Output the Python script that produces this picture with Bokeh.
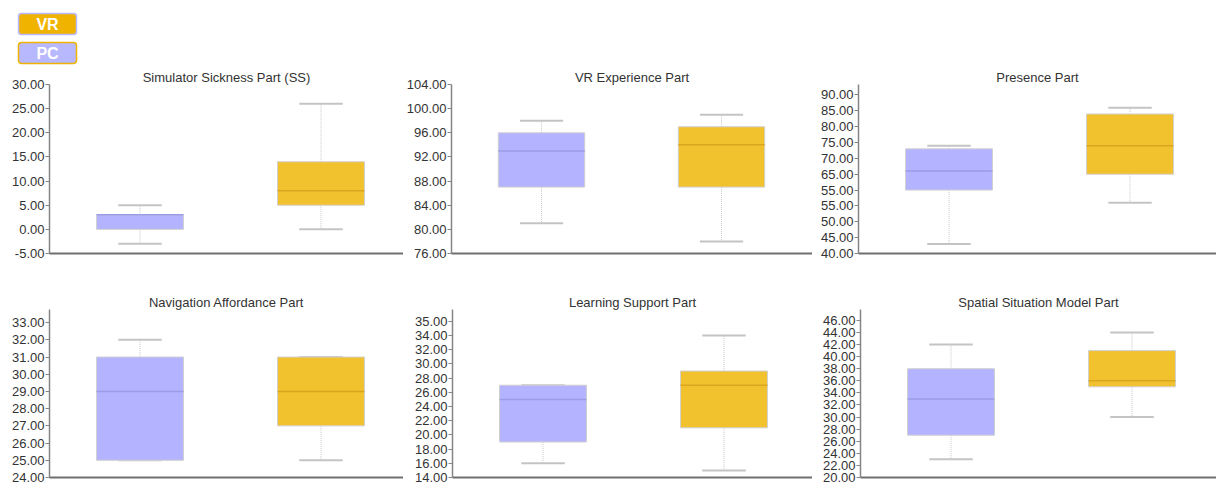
from bokeh.plotting import figure
from bokeh.layouts import column, row
from bokeh.models import Range1d, FixedTicker, ColumnDataSource
from bokeh.embed import file_html
from bokeh.resources import INLINE
from bokeh.core.properties import value

FONT = "Liberation Sans"

# ---------------- data ----------------
groups = ["PC", "VR"]
group_pos = [1, 3]
fill_colors = ["#b3b3ff", "#f2c12e"]
median_colors = ["#9b9be6", "#d9a61f"]

legend_names = ["VR", "PC"]
legend_fill = ["#f0b400", "#b8b8ff"]
legend_border = ["#b8b8ff", "#f0b400"]

titles = [
    "Simulator Sickness Part (SS)",
    "VR Experience Part",
    "Presence Part",
    "Navigation Affordance Part",
    "Learning Support Part",
    "Spatial Situation Model Part",
]

# [min, q1, median, q3, max]
ss_pc = [-3, 0, 3, 3, 5]
ss_vr = [0, 5, 8, 14, 26]
vrexp_pc = [81, 87, 93, 96, 98]
vrexp_vr = [78, 87, 94, 97, 99]
pres_pc = [43, 60, 66, 73, 74]
pres_vr = [56, 65, 74, 84, 86]
nav_pc = [25, 25, 29, 31, 32]
nav_vr = [25, 27, 29, 31, 31]
learn_pc = [16, 19, 25, 27, 27]
learn_vr = [15, 21, 27, 29, 34]
spat_pc = [23, 27, 33, 38, 42]
spat_vr = [30, 35, 36, 41, 44]

ss_ticks = [-5, 0, 5, 10, 15, 20, 25, 30]
ss_labels = ["-5.00", "0.00", "5.00", "10.00", "15.00", "20.00", "25.00", "30.00"]
vrexp_ticks = [76, 80, 84, 88, 92, 96, 100, 104]
vrexp_labels = ["76.00", "80.00", "84.00", "88.00", "92.00", "96.00", "100.00", "104.00"]
pres_ticks = [40, 45, 50, 55, 60, 65, 70, 75, 80, 85, 90]
pres_labels = ["40.00", "45.00", "50.00", "55.00", "55.00", "65.00", "70.00",
               "75.00", "80.00", "85.00", "90.00"]
nav_ticks = [24, 25, 26, 27, 28, 29, 30, 31, 32, 33]
nav_labels = ["24.00", "25.00", "26.00", "27.00", "28.00", "29.00", "30.00",
              "31.00", "32.00", "33.00"]
learn_ticks = [14, 16, 18, 20, 22, 24, 26, 28, 30, 32, 34, 36]
learn_labels = ["14.00", "16.00", "18.00", "20.00", "22.00", "24.00", "26.00",
                "28.00", "30.00", "32.00", "34.00", "35.00"]
spat_ticks = [20, 22, 24, 26, 28, 30, 32, 34, 36, 38, 40, 42, 44, 46]
spat_labels = ["20.00", "22.00", "24.00", "26.00", "28.00", "30.00", "32.00",
               "34.00", "36.00", "38.00", "40.00", "42.00", "44.00", "46.00"]

y_ranges = [(-5, 30), (76, 104), (40, 93.3), (24, 33.76), (14, 37.67), (20, 47.8)]

panels = [
    (titles[0], ss_pc, ss_vr, ss_ticks, ss_labels),
    (titles[1], vrexp_pc, vrexp_vr, vrexp_ticks, vrexp_labels),
    (titles[2], pres_pc, pres_vr, pres_ticks, pres_labels),
    (titles[3], nav_pc, nav_vr, nav_ticks, nav_labels),
    (titles[4], learn_pc, learn_vr, learn_ticks, learn_labels),
    (titles[5], spat_pc, spat_vr, spat_ticks, spat_labels),
]

# ---------------- layout ----------------
PX_PER_UNIT = 90.5
widths = [403, 409, 404, 403, 409, 404]
lefts = [49, 46, 46, 49, 49, 48]
heights = [215, 215, 215, 203, 203, 203]
tops = [18, 18, 18, 28, 28, 28]
bottoms = [28, 28, 28, 7, 7, 7]
title_offsets = [-5, -12, -10, -10, -9, -11]


def make_panel(i):
    title, pc, vr, ticks, labels = panels[i]
    frame_w = widths[i] - lefts[i]
    p = figure(width=widths[i], height=heights[i], output_backend="svg",
               toolbar_location=None,
               x_range=Range1d(0, frame_w / PX_PER_UNIT),
               y_range=Range1d(*y_ranges[i]),
               min_border_left=lefts[i], min_border_right=0,
               min_border_top=tops[i], min_border_bottom=bottoms[i])
    p.outline_line_color = None
    p.grid.visible = False
    p.background_fill_color = "white"
    p.border_fill_color = "white"

    p.title.text = title
    p.title.align = "center"
    p.title.standoff = 0
    p.title.offset = title_offsets[i]
    p.title.text_font = FONT
    p.title.text_font_size = "13px"
    p.title.text_font_style = "normal"
    p.title.text_color = "#333333"

    stats = [pc, vr]
    src = ColumnDataSource(dict(
        x=group_pos,
        lo=[s[0] for s in stats],
        q1=[s[1] for s in stats],
        med=[s[2] for s in stats],
        q3=[s[3] for s in stats],
        hi=[s[4] for s in stats],
        left=[x - 0.48 for x in group_pos],
        right=[x + 0.48 for x in group_pos],
        cl=[x - 0.24 for x in group_pos],
        cr=[x + 0.24 for x in group_pos],
        fill=fill_colors,
        mcol=median_colors,
    ))
    # whiskers (dotted)
    p.segment(x0="x", y0="q3", x1="x", y1="hi", source=src,
              line_color="#c8c8c8", line_width=1, line_dash="1 1")
    p.segment(x0="x", y0="q1", x1="x", y1="lo", source=src,
              line_color="#c8c8c8", line_width=1, line_dash="1 1")
    # caps
    p.segment(x0="cl", y0="hi", x1="cr", y1="hi", source=src,
              line_color="#c4c4c4", line_width=2)
    p.segment(x0="cl", y0="lo", x1="cr", y1="lo", source=src,
              line_color="#c4c4c4", line_width=2)
    # boxes
    p.quad(left="left", right="right", bottom="q1", top="q3", source=src,
           fill_color="fill", line_color="#d0d0d0", line_width=1)
    # medians
    p.segment(x0="left", y0="med", x1="right", y1="med", source=src,
              line_color="mcol", line_width=1.5)

    # y axis
    ya = p.yaxis[0]
    ya.ticker = FixedTicker(ticks=ticks)
    ya.major_label_overrides = {t: l for t, l in zip(ticks, labels)}
    ya.axis_line_color = "#858585"
    ya.axis_line_width = 1.5
    ya.major_tick_line_color = "#858585"
    ya.major_tick_line_width = 1
    ya.major_tick_out = 4
    ya.major_tick_in = 0
    ya.minor_tick_line_color = None
    ya.major_label_standoff = 1
    ya.major_label_text_font = FONT
    ya.major_label_text_font_size = "13px"
    ya.major_label_text_color = "#333333"

    # x axis: line only
    xa = p.xaxis[0]
    xa.ticker = FixedTicker(ticks=[])
    xa.axis_line_color = "#6e6e6e"
    xa.axis_line_width = 2
    xa.major_tick_line_color = None
    xa.minor_tick_line_color = None
    xa.major_label_text_font_size = "0px"
    xa.major_label_standoff = 0
    return p


# ---------------- legend ----------------
leg = figure(width=1216, height=66, output_backend="svg", toolbar_location=None,
             x_range=Range1d(0, 1216), y_range=Range1d(66, 0),
             min_border=0)
leg.axis.visible = False
leg.grid.visible = False
leg.outline_line_color = None
n = len(legend_names)
lsrc = ColumnDataSource(dict(
    name=legend_names,
    left=[18] * n, right=[76] * n,
    top=[13 + 29 * k for k in range(n)],
    bottom=[34 + 29 * k for k in range(n)],
    cy=[23.5 + 29 * k for k in range(n)],
    cx=[47] * n,
    fill=legend_fill, border=legend_border,
))
leg.quad(left="left", right="right", top="top", bottom="bottom", source=lsrc,
         fill_color="fill", line_color="border", line_width=1.5,
         border_radius=3)
leg.text(x="cx", y="cy", text="name", source=lsrc, text_color="white",
         text_font=value(FONT), text_font_style="bold", text_font_size="16px",
         text_align="center", text_baseline="middle")

figs = [make_panel(i) for i in range(6)]
layout = column(leg, row(*figs[:3]), row(*figs[3:]))

open("out.html", "w").write(file_html(layout, INLINE))
